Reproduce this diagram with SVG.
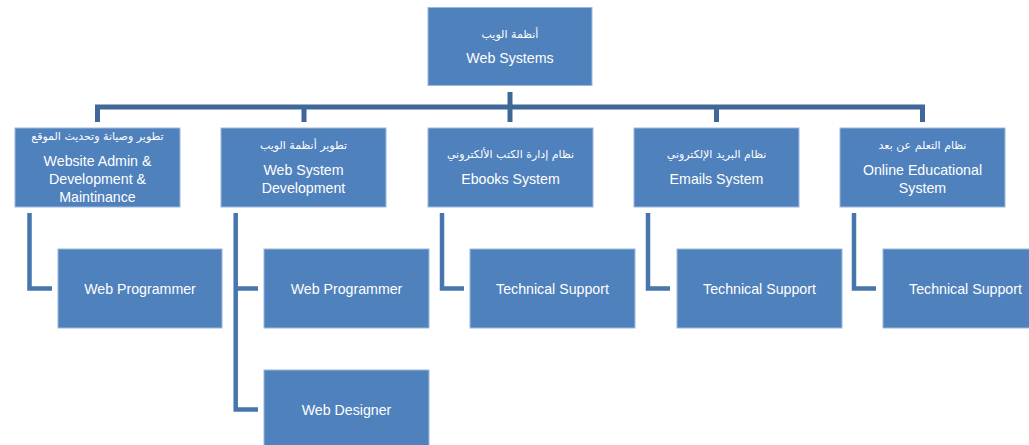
<svg xmlns="http://www.w3.org/2000/svg" width="1029" height="445" viewBox="0 0 1029 445">
<style>
.box{fill:#4f81bd;stroke:#9db8dc;stroke-width:1}
.en{font-family:"Liberation Sans",Arial,sans-serif;font-size:14.2px;fill:#ffffff;text-anchor:middle}
.ar{font-family:"DejaVu Sans","Noto Sans",sans-serif;font-size:11px;fill:#ffffff;text-anchor:middle}
.bar{fill:none;stroke:#3f6797;stroke-width:5}
.elb{fill:none;stroke:#4775ac;stroke-width:4.5}
</style>
<rect width="1029" height="445" fill="#ffffff"/>
<g id="connectors">
<path class="bar" d="M97.5,122 V107 H922.5 V122 M510,92 V122 M304,107 V122 M716.5,107 V122"/>
<path class="elb" d="M29.5,213 V288.5 H52"/>
<path class="elb" d="M235.7,213 V409.5 H258 M235.7,288.5 H258"/>
<path class="elb" d="M442,213 V288.5 H464"/>
<path class="elb" d="M648,213 V288.5 H670"/>
<path class="elb" d="M854,213 V288.5 H876"/>
</g>
<g id="web-systems">
<rect class="box" x="428" y="7.5" width="164" height="78"/>
<text class="ar" x="510" y="38" direction="rtl">أنظمة الويب</text>
<text class="en" x="510" y="63">Web Systems</text>
</g>
<g id="website-admin">
<rect class="box" x="15" y="128" width="165" height="79"/>
<text class="ar" x="97.5" y="140" direction="rtl">تطوير وصيانة وتحديث الموقع</text>
<text class="en" x="97.5" y="166">Website Admin &amp;</text>
<text class="en" x="97.5" y="184">Development &amp;</text>
<text class="en" x="97.5" y="202">Maintinance</text>
</g>
<g id="web-system-development">
<rect class="box" x="221" y="128" width="165" height="79"/>
<text class="ar" x="303.5" y="149" direction="rtl">تطوير أنظمة الويب</text>
<text class="en" x="303.5" y="175">Web System</text>
<text class="en" x="303.5" y="193">Development</text>
</g>
<g id="ebooks-system">
<rect class="box" x="428" y="128" width="165" height="79"/>
<text class="ar" x="510.5" y="158" direction="rtl">نظام إدارة الكتب الألكتروني</text>
<text class="en" x="510.5" y="184">Ebooks System</text>
</g>
<g id="emails-system">
<rect class="box" x="634" y="128" width="165" height="79"/>
<text class="ar" x="716.5" y="158" direction="rtl">نظام البريد الإلكتروني</text>
<text class="en" x="716.5" y="184">Emails System</text>
</g>
<g id="online-educational-system">
<rect class="box" x="840" y="128" width="165" height="79"/>
<text class="ar" x="922.5" y="149" direction="rtl">نظام التعلم عن بعد</text>
<text class="en" x="922.5" y="175">Online Educational</text>
<text class="en" x="922.5" y="193">System</text>
</g>
<g id="web-programmer-1">
<rect class="box" x="58" y="249" width="164" height="79"/>
<text class="en" x="140" y="294">Web Programmer</text>
</g>
<g id="web-programmer-2">
<rect class="box" x="264" y="249" width="165" height="79"/>
<text class="en" x="346.5" y="294">Web Programmer</text>
</g>
<g id="web-designer">
<rect class="box" x="264" y="370" width="165" height="90"/>
<text class="en" x="346.5" y="415">Web Designer</text>
</g>
<g id="technical-support-1">
<rect class="box" x="470" y="249" width="165" height="79"/>
<text class="en" x="552.5" y="294">Technical Support</text>
</g>
<g id="technical-support-2">
<rect class="box" x="677" y="249" width="165" height="79"/>
<text class="en" x="759.5" y="294">Technical Support</text>
</g>
<g id="technical-support-3">
<rect class="box" x="883" y="249" width="165" height="79"/>
<text class="en" x="965.5" y="294">Technical Support</text>
</g>
</svg>
